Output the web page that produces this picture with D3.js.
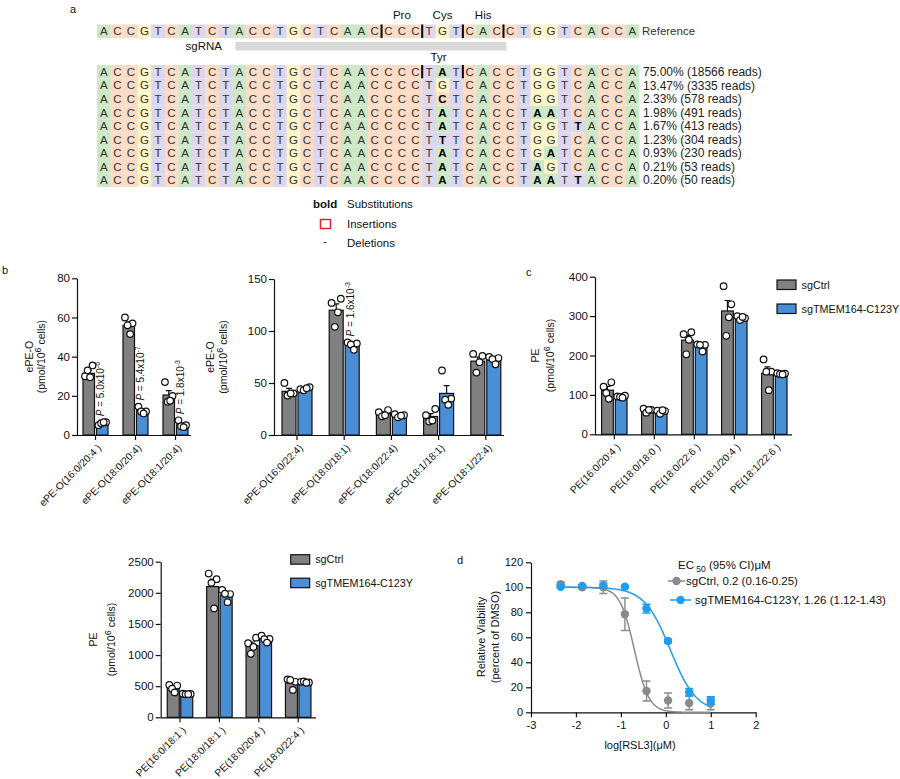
<!DOCTYPE html>
<html>
<head>
<meta charset="utf-8">
<title>TMEM164 C123Y</title>
<script src="https://cdn.jsdelivr.net/npm/d3@7"></script>
<style>
  body { margin: 0; background: #fff; }
  svg { font-family: "Liberation Sans", Arial, Helvetica, sans-serif; }
</style>
</head>
<body>
<svg id="fig" width="900" height="779"></svg>
<script>
// figure: base editing of TMEM164 C123Y, ether lipid levels, RSL3 dose response
// a = allele table, b/c = lipid bars (mean + SEM + replicates), d = viability curves

// ---- a: amplicon ----
const REF_SEQ = 'ACCGTCATCTACCTGCTCAACCCCTGTCACCTGGTCACCA';
const ALLELES = [
  'ACCGTCATCTACCTGCTCAACCCCTATCACCTGGTCACCA',
  'ACCGTCATCTACCTGCTCAACCCCTGTCACCTGGTCACCA',
  'ACCGTCATCTACCTGCTCAACCCCTCTCACCTGGTCACCA',
  'ACCGTCATCTACCTGCTCAACCCCTATCACCTAATCACCA',
  'ACCGTCATCTACCTGCTCAACCCCTATCACCTGGTTACCA',
  'ACCGTCATCTACCTGCTCAACCCCTTTCACCTGGTCACCA',
  'ACCGTCATCTACCTGCTCAACCCCTATCACCTGATCACCA',
  'ACCGTCATCTACCTGCTCAACCCCTATCACCTAGTCACCA',
  'ACCGTCATCTACCTGCTCAACCCCTATCACCTAATTACCA'
];
const ALLELE_FREQ = ['75.00% (18566 reads)', '13.47% (3335 reads)', '2.33% (578 reads)',
  '1.98% (491 reads)', '1.67% (413 reads)', '1.23% (304 reads)', '0.93% (230 reads)',
  '0.21% (53 reads)', '0.20% (50 reads)'];
const CODONS = ['Pro', 'Cys', 'His'];
const CODON_START = [21, 24, 27];      // 0-based first base
const EDITED_CODON = 'Tyr';
const SGRNA = [10, 29];                // first / last base covered

// ---- b: ether PE ----
const EPEO_A_LABELS = ['ePE-O(16:0/20:4 )', 'ePE-O(18:0/20:4)', 'ePE-O(18:1/20:4)'];
const EPEO_A_CTRL = [31.5, 56, 20.4];
const EPEO_A_CTRL_SEM = [1.5, 1.8, 2.3];
const EPEO_A_CTRL_PTS = [[30, 35.5, 33, 29.5], [60, 57, 56, 51.5], [27, 20, 17, 17.5]];
const EPEO_A_MUT = [6, 12.4, 5.2];
const EPEO_A_MUT_SEM = [0.4, 0.8, 0.9];
const EPEO_A_MUT_PTS = [[5, 6.5, 6, 6.5], [14.5, 12, 12, 11], [7.5, 5, 4.5, 4]];
const EPEO_A_P = [['5.0', '-6'], ['5.4', '-7'], ['1.8', '-3']];

const EPEO_B_LABELS = ['ePE-O(16:0/22:4)', 'ePE-O(18:0/18:1)', 'ePE-O(18:0/22:4)', 'ePE-O(18:1/18:1)', 'ePE-O(18:1/22:4)'];
const EPEO_B_CTRL = [42, 120, 20.8, 17.8, 71];
const EPEO_B_CTRL_SEM = [2.8, 6, 1.4, 2.8, 4];
const EPEO_B_CTRL_PTS = [[50, 40, 38, 40], [127, 131, 104, 118], [22, 24, 18, 19], [19, 25, 13, 14], [78, 76, 60, 70]];
const EPEO_B_MUT = [44.5, 86.5, 18.6, 40, 72.5];
const EPEO_B_MUT_SEM = [0.7, 1.8, 0.6, 7.5, 1.5];
const EPEO_B_MUT_PTS = [[44, 46, 43, 45], [89, 88, 87, 82], [20, 19, 17, 18.5], [62, 35, 34, 29], [75, 74, 73, 68]];
const EPEO_B_P = [null, ['1.6', '-3'], null, null, null];

// ---- c: PE ----
const PE_A_LABELS = ['PE(16:0/20:4 )', 'PE(18:0/18:0 )', 'PE(18:0/22:6 )', 'PE(18:1/20:4 )', 'PE(18:1/22:6 )'];
const PE_A_CTRL = [112, 61, 239, 313, 155];
const PE_A_CTRL_SEM = [9.5, 2, 12, 26.6, 16];
const PE_A_CTRL_PTS = [[121, 132, 105, 90], [65, 62, 55, 62], [254, 259, 203, 240], [376, 330, 250, 297], [190, 159, 159, 112]];
const PE_A_MUT = [95.5, 58, 223, 296, 153];
const PE_A_MUT_SEM = [1.2, 2, 4, 2, 0.8];
const PE_A_MUT_PTS = [[96, 98, 95, 93], [60, 59, 52, 61], [228, 227, 227, 210], [300, 295, 290, 298], [155, 154, 153, 152]];

const PE_B_LABELS = ['PE(16:0/18:1 )', 'PE(18:0/18:1 )', 'PE(18:0/20:4 )', 'PE(18:0/22:4 )'];
const PE_B_CTRL = [470, 2100, 1155, 550];
const PE_B_CTRL_SEM = [27, 120, 55, 40];
const PE_B_CTRL_PTS = [[520, 510, 460, 400], [2310, 2220, 2160, 1750], [1190, 1280, 1020, 1130], [610, 570, 600, 440]];
const PE_B_MUT = [374, 1965, 1256, 565];
const PE_B_MUT_SEM = [3, 42, 22, 4];
const PE_B_MUT_PTS = [[380, 375, 370, 372], [2045, 1980, 1985, 1850], [1310, 1260, 1255, 1200], [570, 560, 575, 555]];

const SERIES_NAMES = ['sgCtrl', 'sgTMEM164-C123Y'];

// ---- d: RSL3 viability ----
const DOSE_LOG = [-2.34, -1.86, -1.39, -0.91, -0.43, 0.05, 0.52, 1.0];
const CTRL_VIAB = [102.5, 100, 100, 78.5, 17, 9.5, 7.5, 7];
const CTRL_ERR = [1.5, 1, 5, 13, 8, 6, 5.5, 5];
const MUT_VIAB = [100.5, 101, 101.5, 100.5, 83, 57, 16, 9.5];
const MUT_ERR = [1, 1, 1.5, 1, 3.5, 1.5, 3, 3];
const EC50 = [0.2, 1.26];
const HILL = [2.7, 1.5];
const EC50_LABELS = ['sgCtrl, 0.2 (0.16-0.25)', 'sgTMEM164-C123Y, 1.26 (1.12-1.43)'];

const NT_COLORS = { A: '#cce8c6', C: '#fcdcc6', G: '#fdf6c8', T: '#ddd7ee' };
const GRAY = '#808080';
const BLUE = '#4a8fd6';
const D_GRAY = '#8a8a8a';
const D_BLUE = '#1e9ef2';
const INK = '#111';
const JITTER = [-0.33, 0.33, -0.1, 0.12];

const svg = d3.select('#fig');
svg.append('rect').attr('width', 900).attr('height', 779).attr('fill', '#fff');

function panelLabel(t, x, y) {
  svg.append('text').attr('x', x).attr('y', y).attr('font-size', 11).attr('fill', INK).text(t);
}

function styleAxis(sel, size) {
  sel.attr('font-family', null).attr('font-size', size || 11.5);
  sel.selectAll('.domain, .tick line').attr('stroke', INK).attr('stroke-width', 1.2);
  sel.selectAll('text').attr('fill', INK);
}

// ================= panel a =================
panelLabel('a', 70, 13);
const colX = d3.scaleBand().domain(d3.range(REF_SEQ.length)).range([97, 639]);
const bw = colX.bandwidth();
const rowY = d3.scaleBand().domain(d3.range(ALLELES.length)).range([65, 65 + bw * ALLELES.length]);

function seqRow(seq, y0, boldAgainst) {
  const g = svg.append('g');
  const bases = seq.split('');
  g.selectAll('rect').data(bases).join('rect')
    .attr('x', (b, i) => colX(i)).attr('y', y0)
    .attr('width', bw + 0.4).attr('height', bw)
    .attr('fill', b => NT_COLORS[b]);
  g.selectAll('text').data(bases).join('text')
    .attr('x', (b, i) => colX(i) + bw / 2).attr('y', y0 + bw / 2).attr('dy', '0.36em')
    .attr('text-anchor', 'middle').attr('font-size', 11.5).attr('fill', '#333')
    .attr('font-weight', (b, i) => boldAgainst && b !== boldAgainst[i] ? 'bold' : null)
    .style('fill', (b, i) => boldAgainst && b !== boldAgainst[i] ? '#000' : null)
    .text(b => b);
  return g;
}

function dividers(g, starts, y0) {
  g.selectAll('line.div').data(starts).join('line').attr('class', 'div')
    .attr('x1', s => colX(s)).attr('x2', s => colX(s))
    .attr('y1', y0).attr('y2', y0 + bw)
    .attr('stroke', '#000').attr('stroke-width', 2);
}

const refY = 24.5;
const refRow = seqRow(REF_SEQ, refY, null);
dividers(refRow, CODON_START.concat([CODON_START[2] + 3]), refY);
svg.append('text').attr('x', 642).attr('y', refY + bw / 2).attr('dy', '0.36em')
  .attr('font-size', 11.5).attr('fill', '#333').text('Reference');
svg.selectAll('text.codon').data(CODONS).join('text').attr('class', 'codon')
  .attr('x', (c, i) => colX(CODON_START[i] + 1) + bw / 2).attr('y', 19)
  .attr('text-anchor', 'middle').attr('font-size', 11.5).attr('fill', INK).text(c => c);

// sgRNA bar
svg.append('rect').attr('x', colX(SGRNA[0]) + 3).attr('y', 42)
  .attr('width', colX(SGRNA[1]) + bw - colX(SGRNA[0])).attr('height', 8.5).attr('fill', '#d9d9d9');
svg.append('text').attr('x', 222).attr('y', 50).attr('text-anchor', 'end')
  .attr('font-size', 11.5).attr('fill', INK).text('sgRNA');
svg.append('text').attr('x', colX(CODON_START[1] + 1) + bw / 2 - 4).attr('y', 60.5)
  .attr('text-anchor', 'middle').attr('font-size', 11.5).attr('fill', INK).text(EDITED_CODON);

ALLELES.forEach((seq, r) => {
  const g = seqRow(seq, rowY(r), REF_SEQ);
  if (r === 0) dividers(g, [CODON_START[1], CODON_START[2]], rowY(r));
});
svg.selectAll('text.freq').data(ALLELE_FREQ).join('text').attr('class', 'freq')
  .attr('x', 643).attr('y', (t, i) => rowY(i) + bw / 2).attr('dy', '0.36em')
  .attr('font-size', 12).attr('fill', '#222').text(t => t);

// edit legend
const leg = svg.append('g').attr('font-size', 11.5).attr('fill', INK);
leg.append('text').attr('x', 313).attr('y', 208).attr('font-weight', 'bold').text('bold');
leg.append('text').attr('x', 347).attr('y', 208).text('Substitutions');
leg.append('rect').attr('x', 320.5).attr('y', 219.5).attr('width', 10).attr('height', 9)
  .attr('fill', 'none').attr('stroke', '#e0262e').attr('stroke-width', 1.5);
leg.append('text').attr('x', 347).attr('y', 228).text('Insertions');
leg.append('text').attr('x', 323).attr('y', 245).text('-');
leg.append('text').attr('x', 347).attr('y', 247).text('Deletions');

// ================= bar panels =================
function barPanel(d, L) {
  const g = svg.append('g');
  const n = d.labels.length;
  const x = d3.scaleBand().domain(d.labels)
    .range([L.c0 - L.step / 2, L.c0 - L.step / 2 + n * L.step]);
  const yMax = d.ticks[d.ticks.length - 1];
  const y = d3.scaleLinear().domain([0, yMax]).range([L.y0, L.y1]);
  const cx = lab => x(lab) + x.bandwidth() / 2;

  const series = [
    { mean: d.ctrl, sem: d.ctrlSem, pts: d.ctrlPts, fill: GRAY, off: -L.gap / 2 - L.barW },
    { mean: d.mut, sem: d.mutSem, pts: d.mutPts, fill: BLUE, off: L.gap / 2 }
  ];

  series.forEach(s => {
    const sg = g.append('g');
    sg.selectAll('rect').data(d.labels).join('rect')
      .attr('x', lab => cx(lab) + s.off)
      .attr('y', (lab, i) => y(s.mean[i]))
      .attr('width', L.barW)
      .attr('height', (lab, i) => L.y0 - y(s.mean[i]))
      .attr('fill', s.fill).attr('stroke', INK).attr('stroke-width', 1.2);
    sg.selectAll('path').data(d.labels).join('path')
      .attr('d', (lab, i) => {
        const bx = cx(lab) + s.off + L.barW / 2;
        const yt = y(s.mean[i] + s.sem[i]);
        return `M${bx},${y(s.mean[i])}V${yt}M${bx - 3},${yt}H${bx + 3}`;
      })
      .attr('fill', 'none').attr('stroke', INK).attr('stroke-width', 1.2);
  });

  series.forEach(s => {
    d.labels.forEach((lab, i) => {
      const bx = cx(lab) + s.off + L.barW / 2;
      g.append('g').selectAll('circle').data(s.pts[i]).join('circle')
        .attr('cx', (v, k) => bx + JITTER[k] * L.barW)
        .attr('cy', v => y(v)).attr('r', 3.3)
        .attr('fill', '#fff').attr('stroke', INK).attr('stroke-width', 1.2);
    });
  });

  // axes
  g.append('g').attr('transform', `translate(${L.ax},0)`)
    .call(d3.axisLeft(y).tickValues(d.ticks).tickFormat(d3.format('d'))
      .tickSize(5).tickPadding(2).tickSizeOuter(0))
    .call(styleAxis);
  const xa = g.append('g').attr('transform', `translate(0,${L.y0})`)
    .call(d3.axisBottom(x).tickSize(5).tickSizeOuter(0))
    .call(styleAxis, 10.2);
  xa.select('.domain').attr('d', `M${L.ax},0.5H${L.xEnd}`);
  xa.selectAll('.tick text').attr('x', 0).attr('y', 0).attr('dy', '0.35em')
    .attr('text-anchor', 'end').attr('transform', 'translate(4,11) rotate(-45)');

  // P values above mutant bars
  if (d.pvals) {
    d.pvals.forEach((p, i) => {
      if (!p) return;
      const bx = cx(d.labels[i]) + L.gap / 2 + L.barW / 2 + 2;
      const by = y(d3.max(d.mutPts[i])) - 6;
      const t = g.append('text').attr('transform', `translate(${bx},${by}) rotate(-90)`)
        .attr('font-size', 10).attr('fill', INK);
      t.append('tspan').attr('font-style', 'italic').text('P');
      t.append('tspan').text(` = ${p[0]}x10`);
      t.append('tspan').attr('dy', -4).attr('font-size', 7).text(p[1]);
    });
  }

  // y title
  const yc = (L.y0 + L.y1) / 2;
  g.append('text').attr('transform', `translate(${L.ylx[0]},${yc}) rotate(-90)`)
    .attr('text-anchor', 'middle').attr('dy', '0.35em').attr('font-size', 10.5).attr('fill', INK)
    .text(d.yTitle);
  const t2 = g.append('text').attr('transform', `translate(${L.ylx[1]},${yc}) rotate(-90)`)
    .attr('text-anchor', 'middle').attr('dy', '0.35em').attr('font-size', 10.5).attr('fill', INK);
  t2.append('tspan').text('(pmol/10');
  t2.append('tspan').attr('dy', -4).attr('font-size', 9).text('6');
  t2.append('tspan').attr('dy', 4).text(' cells)');
}

function barLegend(x, y, gapY) {
  const g = svg.append('g');
  [GRAY, BLUE].forEach((c, i) => {
    g.append('rect').attr('x', x).attr('y', y + i * gapY).attr('width', 19).attr('height', 9.5)
      .attr('fill', c).attr('stroke', INK).attr('stroke-width', 1.2);
    g.append('text').attr('x', x + 24.5).attr('y', y + i * gapY + 4.75).attr('dy', '0.35em')
      .attr('font-size', 10.8).attr('fill', INK).text(SERIES_NAMES[i]);
  });
}

panelLabel('b', 2, 274);
barPanel({
  labels: EPEO_A_LABELS, ticks: [0, 20, 40, 60, 80], yTitle: 'ePE-O',
  ctrl: EPEO_A_CTRL, ctrlSem: EPEO_A_CTRL_SEM, ctrlPts: EPEO_A_CTRL_PTS,
  mut: EPEO_A_MUT, mutSem: EPEO_A_MUT_SEM, mutPts: EPEO_A_MUT_PTS, pvals: EPEO_A_P
}, { ax: 77, c0: 95.5, step: 40, barW: 11.5, gap: 2, xEnd: 191, y0: 435, y1: 278.3, ylx: [29, 41] });

barPanel({
  labels: EPEO_B_LABELS, ticks: [0, 50, 100, 150], yTitle: 'ePE-O',
  ctrl: EPEO_B_CTRL, ctrlSem: EPEO_B_CTRL_SEM, ctrlPts: EPEO_B_CTRL_PTS,
  mut: EPEO_B_MUT, mutSem: EPEO_B_MUT_SEM, mutPts: EPEO_B_MUT_PTS, pvals: EPEO_B_P
}, { ax: 274, c0: 297, step: 47.2, barW: 14, gap: 2, xEnd: 504, y0: 435, y1: 279, ylx: [210, 223] });

panelLabel('c', 526, 275.5);
barPanel({
  labels: PE_A_LABELS, ticks: [0, 100, 200, 300, 400], yTitle: 'PE',
  ctrl: PE_A_CTRL, ctrlSem: PE_A_CTRL_SEM, ctrlPts: PE_A_CTRL_PTS,
  mut: PE_A_MUT, mutSem: PE_A_MUT_SEM, mutPts: PE_A_MUT_PTS
}, { ax: 595, c0: 614.3, step: 40, barW: 11.7, gap: 2, xEnd: 792, y0: 434.3, y1: 276.7, ylx: [535, 550] });
barLegend(777, 280, 24);

barPanel({
  labels: PE_B_LABELS, ticks: [0, 500, 1000, 1500, 2000, 2500], yTitle: 'PE',
  ctrl: PE_B_CTRL, ctrlSem: PE_B_CTRL_SEM, ctrlPts: PE_B_CTRL_PTS,
  mut: PE_B_MUT, mutSem: PE_B_MUT_SEM, mutPts: PE_B_MUT_PTS
}, { ax: 160.7, c0: 180, step: 39.4, barW: 12, gap: 1.5, xEnd: 316, y0: 717.3, y1: 561.7, ylx: [93.5, 111.5] });
barLegend(290.7, 554.7, 23.5);

// ================= panel d =================
panelLabel('d', 457, 564);
const dX = d3.scaleLinear().domain([-3, 2]).range([531, 755.7]);
const dY = d3.scaleLinear().domain([0, 120]).range([712.3, 562.3]);
const dg = svg.append('g');

dg.append('g').attr('transform', 'translate(531,0)')
  .call(d3.axisLeft(dY).tickValues(d3.range(0, 121, 20)).tickSize(5).tickPadding(3).tickSizeOuter(0))
  .call(styleAxis, 11);
dg.append('g').attr('transform', 'translate(0,712.3)')
  .call(d3.axisBottom(dX).tickValues(d3.range(-3, 3, 1)).tickFormat(v => String(v))
    .tickSize(5).tickPadding(4).tickSizeOuter(0))
  .call(styleAxis, 11);

dg.append('text').attr('x', 640).attr('y', 749).attr('text-anchor', 'middle')
  .attr('font-size', 11).attr('fill', INK).text('log[RSL3](\u03bcM)');
dg.append('text').attr('transform', 'translate(481,637) rotate(-90)').attr('text-anchor', 'middle')
  .attr('dy', '0.35em').attr('font-size', 11).attr('fill', INK).text('Relative Viability');
dg.append('text').attr('transform', 'translate(495.5,637) rotate(-90)').attr('text-anchor', 'middle')
  .attr('dy', '0.35em').attr('font-size', 11).attr('fill', INK).text('(percent of DMSO)');

const doseSeries = [
  { v: CTRL_VIAB, e: CTRL_ERR, c: D_GRAY, ec50: EC50[0], h: HILL[0] },
  { v: MUT_VIAB, e: MUT_ERR, c: D_BLUE, ec50: EC50[1], h: HILL[1] }
];
const curveX = d3.range(DOSE_LOG[0], DOSE_LOG[DOSE_LOG.length - 1] + 0.005, 0.02);
doseSeries.forEach(s => {
  const fit = xv => 100 / (1 + Math.pow(10, (xv - Math.log10(s.ec50)) * s.h));
  dg.append('path').datum(curveX)
    .attr('d', d3.line().x(xv => dX(xv)).y(xv => dY(fit(xv))))
    .attr('fill', 'none').attr('stroke', s.c).attr('stroke-width', 1.5);
});
doseSeries.forEach(s => {
  const sg = dg.append('g');
  sg.selectAll('path').data(DOSE_LOG).join('path')
    .attr('d', (xv, i) => {
      const px = dX(xv), lo = dY(s.v[i] - s.e[i]), hi = dY(s.v[i] + s.e[i]);
      return `M${px},${lo}V${hi}M${px - 4},${hi}H${px + 4}M${px - 4},${lo}H${px + 4}`;
    })
    .attr('fill', 'none').attr('stroke', s.c).attr('stroke-width', 1.4);
  sg.selectAll('circle').data(DOSE_LOG).join('circle')
    .attr('cx', xv => dX(xv)).attr('cy', (xv, i) => dY(s.v[i])).attr('r', 4.2)
    .attr('fill', s.c);
});

// EC50 legend
const dl = dg.append('g').attr('fill', INK).attr('font-size', 11.5);
const ecT = dl.append('text').attr('x', 678).attr('y', 568.5);
ecT.append('tspan').text('EC');
ecT.append('tspan').attr('dy', 3).attr('font-size', 8.5).text(' 50');
ecT.append('tspan').attr('dy', -3).text(' (95% CI)\u03bcM');
[[668, 685, 581], [670, 691, 600]].forEach((p, i) => {
  dl.append('line').attr('x1', p[0]).attr('x2', p[1]).attr('y1', p[2]).attr('y2', p[2])
    .attr('stroke', doseSeries[i].c).attr('stroke-width', 1.5);
  dl.append('circle').attr('cx', (p[0] + p[1]) / 2).attr('cy', p[2]).attr('r', 4.2).attr('fill', doseSeries[i].c);
  dl.append('text').attr('x', p[1] + (i ? 4 : 1)).attr('y', p[2]).attr('dy', '0.35em').text(EC50_LABELS[i]);
});
</script>
</body>
</html>
